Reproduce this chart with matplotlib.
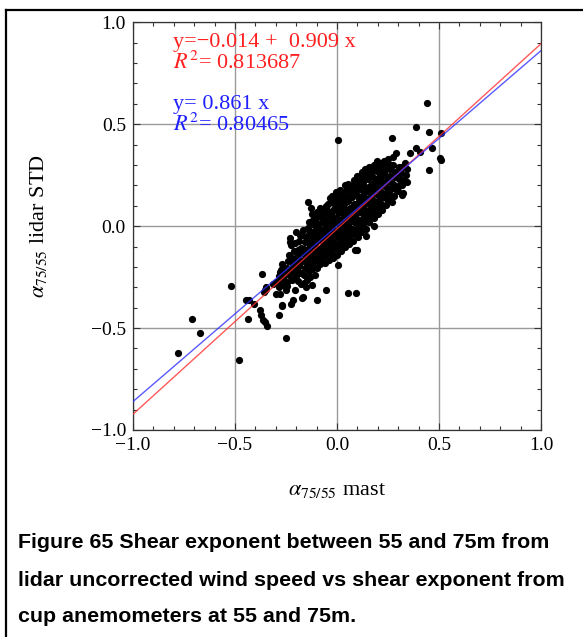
"""Scatter: lidar shear exponent (uncorrected) vs mast shear exponent, 55-75 m."""

import matplotlib

matplotlib.use("Agg")
import matplotlib.pyplot as plt
from matplotlib.lines import Line2D
from matplotlib.ticker import MultipleLocator

plt.rcParams["font.family"] = ["Liberation Serif", "DejaVu Serif"]
plt.rcParams["mathtext.fontset"] = "stix"
plt.rcParams["axes.unicode_minus"] = True

# dense core of the cloud, read column by column (mast x, lidar y)
mast_core = [
    -0.282, -0.276, -0.285, -0.271, -0.279,
    -0.258, -0.263, -0.254, -0.267, -0.252,
    -0.243, -0.236, -0.247, -0.239, -0.233, -0.244,
    -0.219, -0.224, -0.216, -0.221, -0.213, -0.226,
    -0.201, -0.196, -0.205, -0.198, -0.193, -0.204, -0.199,
    -0.178, -0.184, -0.175, -0.181, -0.177, -0.186, -0.172,
    -0.161, -0.157, -0.164, -0.155, -0.162, -0.158, -0.153, -0.166,
    -0.139, -0.144, -0.136, -0.141, -0.134, -0.146, -0.138, -0.143, -0.135,
    -0.121, -0.117, -0.124, -0.115, -0.122, -0.118, -0.126, -0.113, -0.119,
    -0.098, -0.103, -0.095, -0.101, -0.106, -0.097, -0.102, -0.094, -0.104, -0.099,
    -0.081, -0.077, -0.084, -0.075, -0.082, -0.078, -0.086, -0.073, -0.079, -0.083,
    -0.058, -0.063, -0.055, -0.061, -0.057, -0.064, -0.052, -0.059, -0.066, -0.054,
    -0.041, -0.037, -0.044, -0.035, -0.042, -0.038, -0.046, -0.033, -0.039, -0.043, -0.036,
    -0.019, -0.023, -0.016, -0.021, -0.014, -0.024, -0.018, -0.022, -0.013, -0.017, -0.026,
    0.002, -0.003, 0.005, -0.001, 0.004, -0.005, 0.001, 0.006, -0.002, 0.003, -0.004,
    0.021, 0.017, 0.024, 0.016, 0.022, 0.018, 0.026, 0.014, 0.019, 0.023, 0.015,
    0.039, 0.043, 0.036, 0.041, 0.045, 0.037, 0.042, 0.034, 0.044, 0.038, 0.041,
    0.061, 0.057, 0.064, 0.055, 0.062, 0.058, 0.066, 0.053, 0.059, 0.063, 0.056,
    0.079, 0.083, 0.076, 0.081, 0.085, 0.077, 0.082, 0.074, 0.084, 0.078, 0.081,
    0.101, 0.097, 0.104, 0.095, 0.102, 0.098, 0.106, 0.093, 0.099, 0.103, 0.096,
    0.119, 0.123, 0.116, 0.121, 0.125, 0.117, 0.122, 0.114, 0.124, 0.118, 0.121,
    0.141, 0.137, 0.144, 0.135, 0.142, 0.138, 0.146, 0.133, 0.139, 0.143, 0.136,
    0.159, 0.163, 0.156, 0.161, 0.165, 0.157, 0.162, 0.154, 0.164, 0.158,
    0.181, 0.177, 0.184, 0.175, 0.182, 0.178, 0.186, 0.173, 0.179, 0.183,
    0.199, 0.203, 0.196, 0.201, 0.205, 0.197, 0.202, 0.194, 0.204, 0.198,
    0.221, 0.217, 0.224, 0.215, 0.222, 0.218, 0.226, 0.213, 0.219,
    0.239, 0.243, 0.236, 0.241, 0.245, 0.237, 0.242, 0.234,
    0.261, 0.257, 0.264, 0.255, 0.262, 0.258, 0.266,
    0.279, 0.283, 0.276, 0.281, 0.285, 0.277,
    0.301, 0.297, 0.304, 0.295, 0.302,
    0.319, 0.323, 0.316, 0.321,
    0.341, 0.337, 0.344, 0.335,
]
lidar_core = [
    -0.301, -0.268, -0.243, -0.212, -0.334,
    -0.287, -0.254, -0.221, -0.184, -0.312,
    -0.272, -0.238, -0.207, -0.171, -0.143, -0.296,
    -0.262, -0.224, -0.193, -0.158, -0.121, -0.094,
    -0.247, -0.213, -0.181, -0.152, -0.118, -0.083, -0.031,
    -0.232, -0.198, -0.169, -0.137, -0.106, -0.072, -0.043,
    -0.238, -0.203, -0.172, -0.141, -0.113, -0.078, -0.052, -0.018,
    -0.221, -0.188, -0.159, -0.127, -0.098, -0.071, -0.037, -0.011, 0.021,
    -0.208, -0.181, -0.148, -0.122, -0.089, -0.058, -0.031, 0.004, 0.032,
    -0.203, -0.168, -0.139, -0.107, -0.081, -0.049, -0.022, 0.012, 0.041, 0.068,
    -0.187, -0.162, -0.127, -0.101, -0.068, -0.041, -0.008, 0.019, 0.052, 0.087,
    -0.182, -0.148, -0.121, -0.087, -0.062, -0.028, 0.003, 0.031, 0.058, 0.097,
    -0.168, -0.139, -0.112, -0.078, -0.051, -0.017, 0.012, 0.043, 0.068, 0.108, 0.139,
    -0.158, -0.131, -0.098, -0.072, -0.038, -0.011, 0.021, 0.048, 0.083, 0.112, 0.148,
    -0.141, -0.108, -0.082, -0.047, -0.021, 0.013, 0.038, 0.071, 0.098, 0.131, 0.168,
    -0.122, -0.088, -0.061, -0.028, 0.003, 0.031, 0.062, 0.088, 0.121, 0.148, 0.179,
    -0.101, -0.072, -0.038, -0.012, 0.022, 0.048, 0.081, 0.109, 0.141, 0.168, 0.201,
    -0.088, -0.058, -0.031, 0.003, 0.028, 0.062, 0.088, 0.121, 0.149, 0.181, 0.208,
    -0.071, -0.038, -0.012, 0.021, 0.048, 0.082, 0.108, 0.141, 0.168, 0.201, 0.228,
    -0.052, -0.021, 0.012, 0.038, 0.071, 0.098, 0.131, 0.158, 0.191, 0.218, 0.248,
    -0.031, 0.002, 0.028, 0.062, 0.088, 0.121, 0.148, 0.182, 0.208, 0.241, 0.268,
    -0.012, 0.021, 0.048, 0.081, 0.112, 0.138, 0.171, 0.198, 0.231, 0.258, 0.281,
    0.018, 0.052, 0.078, 0.111, 0.138, 0.171, 0.198, 0.232, 0.258, 0.291,
    0.041, 0.068, 0.102, 0.128, 0.162, 0.188, 0.221, 0.248, 0.279, 0.302,
    0.058, 0.091, 0.118, 0.152, 0.178, 0.212, 0.238, 0.271, 0.298, 0.318,
    0.081, 0.108, 0.141, 0.168, 0.201, 0.228, 0.262, 0.288, 0.311,
    0.102, 0.131, 0.158, 0.191, 0.218, 0.251, 0.278, 0.308,
    0.128, 0.161, 0.188, 0.221, 0.248, 0.281, 0.301,
    0.148, 0.181, 0.208, 0.241, 0.268, 0.298,
    0.171, 0.198, 0.231, 0.258, 0.288,
    0.201, 0.228, 0.261, 0.291,
    0.218, 0.251, 0.281, 0.309,
]

# extra points read between the core columns, where the cloud is solid black
mast_fill = [
    -0.112, -0.108, -0.111, -0.107,
    -0.091, -0.088, -0.092, -0.087,
    -0.071, -0.068, -0.072, -0.069, -0.067,
    -0.051, -0.048, -0.052, -0.049,
    -0.031, -0.028, -0.032, -0.029, -0.027,
    -0.011, -0.008, -0.012, -0.009, -0.007,
    0.011, 0.009, 0.012, 0.008, 0.013, 0.010,
    0.031, 0.028, 0.032, 0.029, 0.033,
    0.049, 0.052, 0.048, 0.051, 0.053,
    0.071, 0.068, 0.072, 0.069, 0.067,
    0.091, 0.088, 0.092, 0.089, 0.087,
    0.111, 0.108, 0.112, 0.109, 0.113,
    0.131, 0.128, 0.132, 0.129, 0.127,
    0.151, 0.148, 0.152, 0.149, 0.153,
    0.171, 0.168, 0.172, 0.169,
    0.191, 0.188, 0.192, 0.189,
    0.211, 0.208, 0.212, 0.209,
    0.231, 0.228, 0.232, 0.229,
    0.251, 0.248, 0.252, 0.249,
]
lidar_fill = [
    -0.152, -0.091, -0.028, 0.021,
    -0.118, -0.062, 0.002, 0.052,
    -0.141, -0.079, -0.018, 0.039, 0.072,
    -0.098, -0.041, 0.022, 0.078,
    -0.121, -0.058, 0.003, 0.061, 0.118,
    -0.088, -0.031, 0.028, 0.091, 0.138,
    -0.112, -0.048, 0.012, 0.069, 0.121, 0.152,
    -0.071, -0.008, 0.051, 0.108, 0.162,
    -0.049, 0.011, 0.068, 0.131, 0.188,
    -0.031, 0.028, 0.091, 0.148, 0.198,
    -0.012, 0.052, 0.108, 0.171, 0.218,
    0.018, 0.078, 0.138, 0.198, 0.241,
    0.041, 0.098, 0.161, 0.218, 0.262,
    0.062, 0.121, 0.178, 0.238, 0.271,
    0.088, 0.148, 0.208, 0.261,
    0.112, 0.168, 0.228, 0.281,
    0.131, 0.191, 0.248, 0.302,
    0.148, 0.208, 0.271, 0.321,
    0.171, 0.231, 0.288, 0.331,
]

# scattered points around the core
mast_outer = [
    0.442, 0.388, 0.453, 0.511, 0.003, 0.272, 0.388, 0.360, 0.466, 0.409,
    0.504, 0.511, 0.450, 0.319, -0.144, -0.125, -0.123, 0.048, 0.238, 0.289,
    0.196, 0.276, 0.325, 0.270, 0.180, 0.140, 0.097,
    -0.232, -0.232, -0.182, -0.366, -0.445, -0.432, -0.437, -0.379, -0.371,
    -0.363, -0.355, -0.343, -0.251, -0.286, -0.268, -0.223, -0.215, -0.169,
    -0.100, -0.056, 0.053, 0.094, 0.089, 0.003, -0.347, -0.360, -0.314,
    -0.297, -0.281, -0.264, -0.248, -0.407, -0.355, -0.346, -0.297, -0.281,
    -0.264, -0.207, -0.166, -0.174, -0.149, -0.268, -0.232, -0.215, -0.199,
    -0.273, -0.190, -0.160, -0.130, -0.110, -0.150, -0.120,
    -0.711, -0.670, -0.778, -0.478, -0.519,
]
lidar_outer = [
    0.603, 0.488, 0.463, 0.459, 0.423, 0.431, 0.385, 0.357, 0.382, 0.365,
    0.333, 0.324, 0.275, 0.152, 0.119, 0.087, 0.059, 0.185, 0.316, 0.357,
    0.308, 0.340, 0.162, 0.120, 0.000, -0.050, -0.118,
    -0.060, -0.077, -0.044, -0.233, -0.364, -0.360, -0.454, -0.413, -0.437,
    -0.462, -0.470, -0.490, -0.549, -0.437, -0.393, -0.380, -0.364, -0.355,
    -0.360, -0.315, -0.326, -0.326, -0.115, -0.192, -0.306, -0.323, -0.282,
    -0.331, -0.224, -0.224, -0.208, -0.380, -0.314, -0.298, -0.274, -0.282,
    -0.265, -0.315, -0.347, -0.282, -0.265, -0.388, -0.216, -0.183, -0.200,
    -0.216, -0.270, -0.280, -0.250, -0.240, -0.300, -0.290,
    -0.454, -0.522, -0.621, -0.655, -0.293,
]

# fitted lines as printed on the chart
fit_intercept = -0.014
fit_slope = 0.909
origin_slope = 0.861
line_x = [-1.0, 1.0]

caption = [
    "Figure 65 Shear exponent between 55 and 75m from",
    "lidar uncorrected wind speed vs shear exponent from",
    "cup anemometers at 55 and 75m.",
]

fig = plt.figure(figsize=(5.83, 6.37), dpi=100)
ax = fig.add_axes([0.228, 0.325, 0.700, 0.640])

for xs, ys in [(mast_core, lidar_core), (mast_fill, lidar_fill), (mast_outer, lidar_outer)]:
    ax.plot(xs, ys, "o", color="black", ms=5.2, mec="none", zorder=3)

ax.plot(line_x, [fit_intercept + fit_slope * x for x in line_x],
        color="#ff3030", lw=1.0, alpha=0.8, zorder=4)
ax.plot(line_x, [origin_slope * x for x in line_x],
        color="#3030ff", lw=1.0, alpha=0.8, zorder=4)

ax.set_xlim(-1, 1)
ax.set_ylim(-1, 1)
ax.xaxis.set_major_locator(MultipleLocator(0.5))
ax.yaxis.set_major_locator(MultipleLocator(0.5))
ax.xaxis.set_minor_locator(MultipleLocator(0.1))
ax.yaxis.set_minor_locator(MultipleLocator(0.1))
ax.xaxis.set_major_formatter(lambda v, pos: f"{v:.1f}".replace("-", "\u2212"))
ax.yaxis.set_major_formatter(lambda v, pos: f"{v:.1f}".replace("-", "\u2212"))
ax.tick_params(which="both", direction="in", top=True, right=True,
               labelsize=14, color="#333333", pad=5)
ax.tick_params(which="major", length=5, width=0.8)
ax.tick_params(which="minor", length=3, width=0.8)
ax.grid(True, which="major", color="#9a9a9a", lw=1.0, zorder=1)
for spine in ax.spines.values():
    spine.set_color("#333333")
    spine.set_linewidth(0.9)

ax.set_xlabel(r"$\alpha_{75/55}$ mast", fontsize=16)
ax.set_ylabel(r"$\alpha_{75/55}$ lidar STD", fontsize=16)
ax.xaxis.set_label_coords(0.5, -0.125)
ax.yaxis.set_label_coords(-0.205, 0.5)

ax.text(0.098, 0.951, "y=\u22120.014 +  0.909 x", transform=ax.transAxes,
        color="#ff2020", fontsize=16, va="center")
ax.text(0.098, 0.902, r"$R^2$= 0.813687", transform=ax.transAxes,
        color="#ff2020", fontsize=16, va="center")
ax.text(0.098, 0.798, "y= 0.861 x", transform=ax.transAxes,
        color="#2020ff", fontsize=16, va="center")
ax.text(0.098, 0.749, r"$R^2$= 0.80465", transform=ax.transAxes,
        color="#2020ff", fontsize=16, va="center")

for i, line in enumerate(caption):
    fig.text(0.031, 1 - (543 + 37 * i) / 637, line, fontsize=15.4,
             fontweight="bold", family=["Liberation Sans", "DejaVu Sans"],
             va="center", ha="left")

# page frame from the source document
fig.add_artist(Line2D([6 / 583, 6 / 583], [0, 1 - 10 / 637],
                      transform=fig.transFigure, color="black", lw=1.6))
fig.add_artist(Line2D([6 / 583, 1], [1 - 10 / 637, 1 - 10 / 637],
                      transform=fig.transFigure, color="black", lw=1.6))

fig.savefig("out.png", dpi=100)
